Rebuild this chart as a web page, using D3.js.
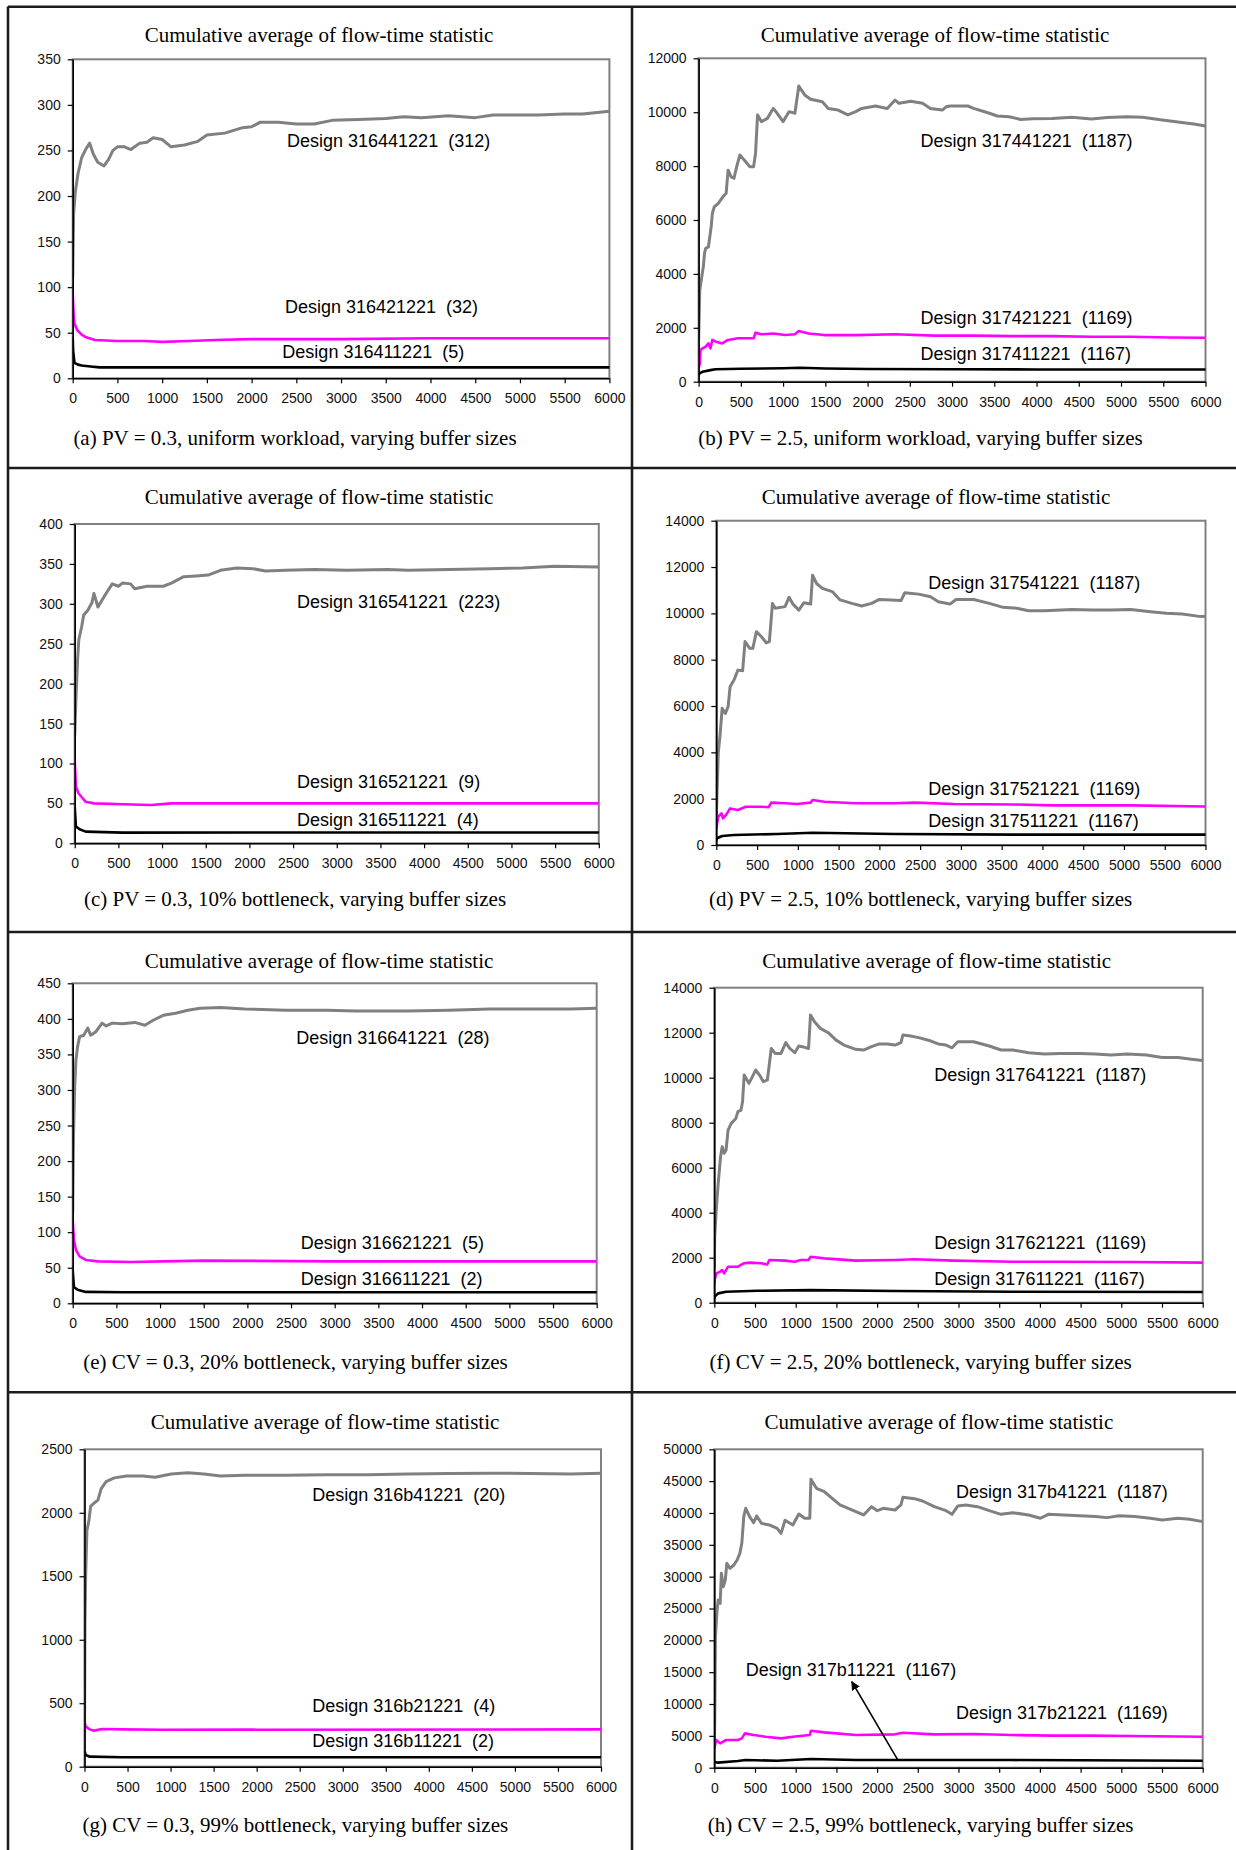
<!DOCTYPE html>
<html>
<head>
<meta charset="utf-8">
<script src="https://cdn.jsdelivr.net/npm/d3@7"></script>
<style>
  html, body { margin: 0; padding: 0; background: #fff; }
  svg { display: block; }
  .tick text { font-family: "Liberation Sans", Arial, sans-serif; font-size: 14px; fill: #111; }
  .lbl { font-family: "Liberation Sans", Arial, sans-serif; font-size: 18px; fill: #000; white-space: pre; }
  .ttl { font-family: "Liberation Serif", "Times New Roman", serif; font-size: 21px; fill: #000; }
</style>
</head>
<body>
<svg id="chart" width="1236" height="1850"></svg>
<script>
// ---------------- data ----------------
const xTicks = [0,500,1000,1500,2000,2500,3000,3500,4000,4500,5000,5500,6000];
const chartTitle = "Cumulative average of flow-time statistic";
const captions = [
  "(a) PV = 0.3, uniform workload, varying buffer sizes",
  "(b) PV = 2.5, uniform workload, varying buffer sizes",
  "(c) PV = 0.3, 10% bottleneck, varying buffer sizes",
  "(d) PV = 2.5, 10% bottleneck, varying buffer sizes",
  "(e) CV = 0.3, 20% bottleneck, varying buffer sizes",
  "(f) CV = 2.5, 20% bottleneck, varying buffer sizes",
  "(g) CV = 0.3, 99% bottleneck, varying buffer sizes",
  "(h) CV = 2.5, 99% bottleneck, varying buffer sizes"
];
const yMax  = [350, 12000, 400, 14000, 450, 14000, 2500, 50000];
const yStep = [50, 2000, 50, 2000, 50, 2000, 500, 5000];

const aGray = [[0,110],[10,180],[30,205],[60,225],[100,242],[150,252],[190,258],[230,246],[280,237],[350,233],[400,240],[450,250],[500,254],[580,254],[650,251],[750,258],[830,259],[900,264],[1000,262],[1100,254],[1250,256],[1400,260],[1500,267],[1700,269],[1900,275],[2000,276],[2100,281],[2300,281],[2500,279],[2700,279],[2900,283],[3200,284],[3500,285],[3700,287],[3900,286],[4200,288],[4500,286],[4700,289],[5000,289],[5200,289],[5500,290],[5700,290],[6000,293]];
const aMag  = [[0,95],[10,70],[20,60],[50,53],[100,48],[150,45],[250,42],[500,41],[800,41],[1000,40],[1300,41],[1600,42],[2000,43],[3000,43],[4000,44],[5000,44],[6000,44]];
const aBlk  = [[0,45],[5,30],[20,17],[60,15],[100,14],[200,13],[300,12],[1000,12],[3000,12],[6000,12]];

const bGray = [[0,1500],[14,3400],[56,4270],[70,4760],[84,4950],[116,5000],[149,5750],[163,6250],[186,6490],[233,6620],[288,6860],[326,6990],[349,7850],[386,7600],[419,7550],[451,7980],[488,8410],[558,8160],[605,7980],[651,7980],[674,8470],[698,9900],[744,9650],[814,9770],[860,10020],[884,10140],[930,9960],[1000,9650],[1070,10020],[1140,9960],[1186,10970],[1256,10640],[1326,10480],[1465,10390],[1535,10140],[1651,10080],[1767,9900],[1860,10020],[1930,10140],[2093,10230],[2233,10140],[2326,10450],[2372,10330],[2512,10410],[2651,10330],[2744,10140],[2884,10080],[2930,10200],[2977,10230],[3186,10230],[3256,10140],[3442,9960],[3535,9860],[3674,9830],[3814,9730],[3953,9760],[4186,9770],[4419,9810],[4651,9750],[4837,9800],[5070,9830],[5256,9810],[5488,9710],[5674,9640],[5860,9560],[6000,9490]];
const bMag  = [[0,500],[14,680],[23,1175],[47,1240],[84,1300],[116,1420],[140,1240],[163,1550],[209,1480],[279,1420],[349,1550],[465,1610],[558,1610],[651,1610],[674,1820],[744,1760],[884,1790],[1023,1730],[1140,1760],[1186,1880],[1302,1790],[1488,1730],[1860,1730],[2326,1760],[2791,1710],[3256,1710],[3721,1690],[4186,1690],[4651,1670],[5116,1670],[5581,1640],[6000,1630]];
const bBlk  = [[0,250],[20,330],[47,370],[140,430],[200,460],[500,480],[1000,500],[1200,520],[1500,490],[2000,470],[3000,460],[4000,455],[6000,450]];

const cGray = [[0,134],[14,180],[33,230],[47,255],[79,271],[103,286],[150,292],[196,301],[220,313],[266,296],[336,309],[383,317],[430,325],[500,322],[547,326],[640,325],[687,319],[827,322],[1014,322],[1107,326],[1248,334],[1388,335],[1528,336],[1668,342],[1855,345],[2042,344],[2182,341],[2416,342],[2743,343],[3117,342],[3584,343],[3818,342],[4285,343],[4752,344],[5126,345],[5500,347],[6000,346]];
const cMag  = [[0,104],[14,71],[42,63],[79,58],[126,52],[220,50],[547,49],[874,48],[1107,50],[2000,50],[4000,50],[6000,50]];
const cBlk  = [[0,46],[14,21],[56,17.5],[126,14.6],[547,13.4],[2000,13.5],[6000,13.5]];

const dGray = [[0,1200],[10,2370],[24,3960],[48,4820],[72,5900],[111,5680],[145,5970],[169,6830],[217,7120],[265,7550],[323,7520],[352,8780],[410,8490],[448,8490],[492,9210],[554,8990],[612,8730],[651,8780],[689,10430],[723,10220],[843,10290],[892,10690],[940,10400],[1012,10140],[1075,10460],[1157,10400],[1181,11650],[1229,11290],[1301,11080],[1422,10940],[1518,10580],[1663,10430],[1783,10320],[1904,10430],[2000,10600],[2145,10580],[2265,10550],[2313,10890],[2482,10830],[2627,10720],[2723,10500],[2867,10400],[2940,10600],[3157,10600],[3349,10430],[3518,10260],[3687,10220],[3831,10110],[4024,10110],[4361,10170],[4602,10140],[4843,10140],[5084,10170],[5325,10070],[5518,10000],[5711,9970],[5904,9880],[6000,9860]];
const dMag  = [[0,700],[10,935],[24,1220],[63,1370],[82,1150],[120,1300],[169,1580],[265,1510],[361,1650],[458,1650],[554,1650],[641,1630],[675,1830],[843,1800],[988,1770],[1157,1830],[1181,1940],[1325,1870],[1711,1800],[2193,1800],[2434,1830],[2916,1770],[3639,1750],[4120,1710],[5084,1710],[6000,1660]];
const dBlk  = [[0,200],[10,290],[72,390],[217,430],[747,475],[1181,530],[2193,475],[3639,450],[6000,450]];

const eGray = [[0,127],[9,234],[23,305],[37,342],[56,361],[79,375],[126,377],[173,387],[206,377],[266,382],[336,394],[383,390],[453,394],[570,393],[710,395],[827,391],[921,398],[1037,405],[1178,408],[1318,412],[1458,415],[1692,416],[1972,414],[2439,412],[2907,412],[3234,411],[3841,411],[4308,412],[4776,414],[5243,414],[5710,414],[6000,415]];
const eMag  = [[0,117],[14,89],[37,75],[79,66],[150,61],[290,59],[664,58],[1037,59],[1505,60],[3000,59],[6000,59]];
const eBlk  = [[0,47],[14,23],[56,19],[150,16],[570,15.5],[6000,15.5]];

const fGray = [[0,1500],[5,2930],[24,4120],[48,5300],[77,6490],[97,6930],[121,6640],[145,6790],[169,7670],[208,7970],[265,8190],[290,8490],[328,8560],[347,8930],[367,10120],[425,9750],[458,9970],[507,10340],[555,10120],[603,9820],[652,9900],[700,11300],[748,11080],[820,11080],[878,11560],[927,11300],[989,11110],[1038,11410],[1110,11350],[1158,11300],[1182,12790],[1231,12490],[1303,12190],[1400,12000],[1496,11670],[1593,11450],[1737,11260],[1834,11230],[1931,11380],[2027,11500],[2124,11500],[2220,11450],[2293,11560],[2317,11900],[2413,11850],[2510,11780],[2654,11640],[2751,11500],[2847,11450],[2920,11330],[2992,11600],[3185,11600],[3378,11410],[3523,11230],[3668,11230],[3861,11110],[4054,11050],[4247,11080],[4488,11080],[4681,11050],[4875,11010],[5068,11050],[5309,11010],[5502,10900],[5695,10900],[5888,10810],[6000,10760]];
const fMag  = [[0,800],[5,1010],[24,1300],[72,1380],[97,1450],[121,1300],[169,1600],[290,1600],[362,1750],[434,1780],[579,1750],[651,1700],[676,1900],[869,1870],[989,1820],[1062,1900],[1158,1900],[1182,2040],[1351,1970],[1737,1870],[2220,1900],[2461,1930],[2944,1870],[3668,1820],[4150,1820],[5116,1810],[6000,1780]];
const fBlk  = [[0,200],[5,270],[48,415],[145,490],[531,530],[1182,560],[2220,520],[3668,490],[6000,475]];

const gGray = [[0,100],[5,1130],[14,1520],[28,1860],[52,1940],[71,2050],[109,2075],[156,2100],[194,2190],[251,2245],[346,2275],[488,2290],[678,2290],[820,2280],[1009,2305],[1199,2315],[1389,2305],[1578,2290],[1863,2295],[2336,2295],[2810,2300],[3284,2300],[3758,2305],[4232,2310],[4706,2312],[5180,2310],[5654,2305],[6000,2312]];
const gMag  = [[0,184],[5,340],[14,315],[62,294],[109,284],[204,297],[441,294],[915,291],[6000,294]];
const gBlk  = [[0,130],[14,92],[62,79],[441,74],[6000,74]];

const hGray = [[0,3000],[5,6960],[14,20580],[34,24770],[48,26340],[72,25810],[87,30520],[111,28430],[135,29480],[154,32090],[193,31310],[241,31830],[280,32620],[314,33660],[338,35240],[362,39430],[386,40730],[434,39430],[483,38480],[521,39530],[579,38380],[676,38120],[772,37590],[820,36800],[869,38850],[965,38120],[1038,39840],[1110,39170],[1173,39170],[1187,45290],[1255,43880],[1351,43350],[1448,42300],[1544,41260],[1689,40470],[1834,39690],[1931,40990],[2003,40360],[2075,40730],[2220,40470],[2293,41260],[2317,42460],[2461,42250],[2558,41880],[2703,40990],[2847,40360],[2920,39790],[2992,41100],[3089,41260],[3234,40990],[3378,40360],[3523,39790],[3668,40050],[3861,39690],[4006,39170],[4103,39790],[4295,39690],[4488,39580],[4681,39430],[4826,39270],[4971,39580],[5164,39430],[5357,39170],[5502,38900],[5695,39170],[5840,39010],[6000,38640]];
const hMag  = [[0,3040],[24,4350],[72,3820],[145,4350],[290,4350],[338,4610],[376,5390],[483,5130],[628,4870],[820,4610],[965,4870],[1173,5130],[1187,5810],[1351,5550],[1738,5130],[2220,5240],[2317,5500],[2703,5240],[3186,5290],[3668,5130],[4150,5030],[4633,5030],[5116,4970],[6000,4870]];
const hBlk  = [[0,940],[43,790],[290,1050],[386,1200],[772,1100],[1187,1360],[1738,1200],[3668,1200],[6000,1100]];

const designLabels = [
  ["Design 316441221  (312)", "Design 316421221  (32)", "Design 316411221  (5)"],
  ["Design 317441221  (1187)", "Design 317421221  (1169)", "Design 317411221  (1167)"],
  ["Design 316541221  (223)", "Design 316521221  (9)", "Design 316511221  (4)"],
  ["Design 317541221  (1187)", "Design 317521221  (1169)", "Design 317511221  (1167)"],
  ["Design 316641221  (28)", "Design 316621221  (5)", "Design 316611221  (2)"],
  ["Design 317641221  (1187)", "Design 317621221  (1169)", "Design 317611221  (1167)"],
  ["Design 316b41221  (20)", "Design 316b21221  (4)", "Design 316b11221  (2)"],
  ["Design 317b41221  (1187)", "Design 317b21221  (1169)", "Design 317b11221  (1167)"]
];
const seriesSets = [
  [aGray, aMag, aBlk], [bGray, bMag, bBlk], [cGray, cMag, cBlk], [dGray, dMag, dBlk],
  [eGray, eMag, eBlk], [fGray, fMag, fBlk], [gGray, gMag, gBlk], [hGray, hMag, hBlk]
];

// ---------------- layout (pixels) ----------------
const layout = [
  {plot:[72.7, 59.3, 609.4, 378.3], tx:319, ty:42, cx:295, cy:445,
   labels:[[2396,254],[2373,71.3],[2344,22.6]]},
  {plot:[698.6, 58.3, 1205.5, 381.7], tx:935, ty:42, cx:920.5, cy:445,
   labels:[[2628,8720],[2628,2141],[2628,805]]},
  {plot:[74.7, 524, 598.8, 843.3], tx:319, ty:504.3, cx:295, cy:906,
   labels:[[2545,295.2],[2545,68.9],[2545,22]]},
  {plot:[716.3, 520.7, 1205.5, 845], tx:936, ty:504, cx:920.6, cy:906,
   labels:[[2601,11052],[2601,2159],[2601,790]]},
  {plot:[72.7, 983.3, 596.7, 1303.3], tx:319, ty:967.7, cx:295.5, cy:1369.3,
   labels:[[2560,364.2],[2612,76.4],[2612,25.7]]},
  {plot:[714.3, 987.7, 1202.7, 1302.7], tx:936.7, ty:967.7, cx:920.6, cy:1369.3,
   labels:[[2703,9853],[2703,2373],[2703,787]]},
  {plot:[84.5, 1449.3, 601, 1766.7], tx:325, ty:1429.3, cx:295.3, cy:1831.7,
   labels:[[2645,2092],[2645,433],[2645,157.5]]},
  {plot:[714.3, 1449.3, 1202.7, 1767.7], tx:938.9, ty:1429.3, cx:920.6, cy:1831.7,
   labels:[[2969,42305],[2969,7600],[386,14447]],
   arrow:[[2250,1300],[1689,13505]]}
];
const colors = ["#808080", "#ff00ff", "#000000"];
const widths = [3, 2.6, 2.6];

const svg = d3.select("#chart");

// arrow marker
svg.append("defs").append("marker")
  .attr("id", "arrowhead").attr("viewBox", "0 0 10 10")
  .attr("refX", 9).attr("refY", 5)
  .attr("markerWidth", 9).attr("markerHeight", 9)
  .attr("markerUnits", "userSpaceOnUse")
  .attr("orient", "auto")
  .append("path").attr("d", "M0,0 L10,5 L0,10 Z").attr("fill", "#000");

// frame lines
const frame = svg.append("g").attr("stroke", "#1c1c1c").attr("stroke-width", 2.6).attr("fill", "none");
frame.append("line").attr("x1", 8).attr("x2", 8).attr("y1", 6.5).attr("y2", 1850);
frame.append("line").attr("x1", 8).attr("x2", 1236).attr("y1", 6.7).attr("y2", 6.7);
frame.append("line").attr("x1", 632).attr("x2", 632).attr("y1", 6.5).attr("y2", 1850);
[468, 932, 1392.3].forEach(yy => {
  frame.append("line").attr("x1", 8).attr("x2", 1236).attr("y1", yy).attr("y2", yy);
});

layout.forEach((L, i) => {
  const [x0, y0, x1, y1] = L.plot;
  const x = d3.scaleLinear().domain([0, 6000]).range([x0, x1]);
  const y = d3.scaleLinear().domain([0, yMax[i]]).range([y1, y0]);
  const g = svg.append("g");

  // title and caption
  g.append("text").attr("class", "ttl").attr("x", L.tx).attr("y", L.ty)
    .attr("text-anchor", "middle").text(chartTitle);
  g.append("text").attr("class", "ttl").attr("x", L.cx).attr("y", L.cy)
    .attr("text-anchor", "middle").text(captions[i]);

  // plot area border (grey)
  g.append("rect").attr("x", x0).attr("y", y0).attr("width", x1 - x0).attr("height", y1 - y0)
    .attr("fill", "none").attr("stroke", "#808080").attr("stroke-width", 2);

  // clip
  const cid = "clip" + i;
  svg.append("clipPath").attr("id", cid).append("rect")
    .attr("x", x0).attr("y", y0 - 2).attr("width", x1 - x0 + 1).attr("height", y1 - y0 + 2);

  const line = d3.line().x(d => x(d[0])).y(d => y(d[1]));
  const sets = seriesSets[i];
  [2, 1, 0].forEach(k => {
    g.append("path").datum(sets[k]).attr("clip-path", `url(#${cid})`)
      .attr("d", line).attr("fill", "none")
      .attr("stroke", colors[k]).attr("stroke-width", widths[k])
      .attr("stroke-linejoin", "round");
  });

  // axes
  const yTicks = d3.range(0, yMax[i] + yStep[i] / 2, yStep[i]);
  const ya = g.append("g").attr("transform", `translate(${x0},0)`)
    .call(d3.axisLeft(y).tickValues(yTicks).tickSize(5).tickSizeOuter(0).tickPadding(7).tickFormat(d3.format("d")));
  const xa = g.append("g").attr("transform", `translate(0,${y1})`)
    .call(d3.axisBottom(x).tickValues(xTicks).tickSize(5).tickSizeOuter(0).tickPadding(10).tickFormat(d3.format("d")));
  [ya, xa].forEach(a => {
    a.select(".domain").attr("stroke", "#000").attr("stroke-width", 1.6);
    a.selectAll(".tick line").attr("stroke", "#000").attr("stroke-width", 1.2);
    a.selectAll(".tick text").attr("fill", "#111");
  });

  // series labels
  designLabels[i].forEach((t, k) => {
    g.append("text").attr("class", "lbl")
      .attr("x", x(L.labels[k][0])).attr("y", y(L.labels[k][1])).text(t);
  });

  if (L.arrow) {
    g.append("line")
      .attr("x1", x(L.arrow[0][0])).attr("y1", y(L.arrow[0][1]))
      .attr("x2", x(L.arrow[1][0])).attr("y2", y(L.arrow[1][1]))
      .attr("stroke", "#000").attr("stroke-width", 1.6)
      .attr("marker-end", "url(#arrowhead)");
  }
});
</script>
</body>
</html>
